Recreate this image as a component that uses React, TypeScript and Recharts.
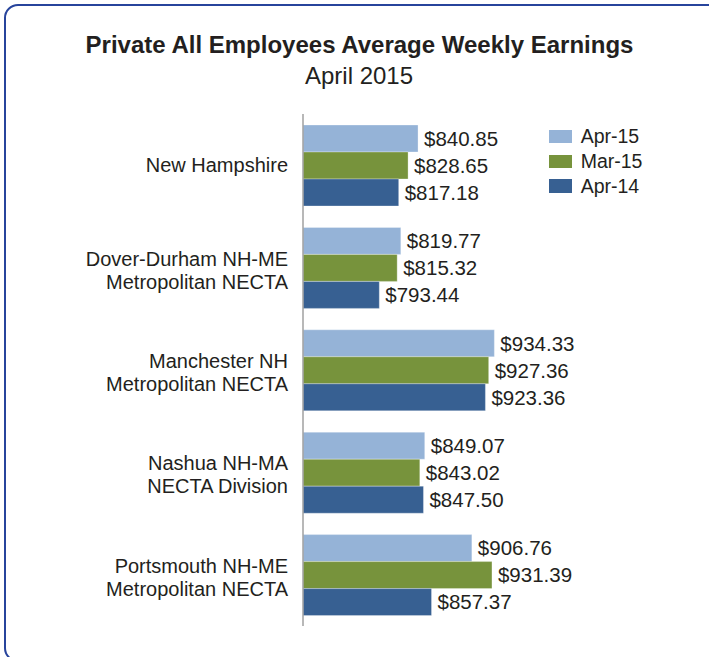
import React from "react";
import { BarChart, Bar, XAxis, YAxis, LabelList } from "recharts";

const categories = [
  "New Hampshire",
  "Dover-Durham NH-ME\nMetropolitan NECTA",
  "Manchester NH\nMetropolitan NECTA",
  "Nashua NH-MA\nNECTA Division",
  "Portsmouth NH-ME\nMetropolitan NECTA",
];
const apr15 = [840.85, 819.77, 934.33, 849.07, 906.76];
const mar15 = [828.65, 815.32, 927.36, 843.02, 931.39];
const apr14 = [817.18, 793.44, 923.36, 847.5, 857.37];
const seriesNames = ["Apr-15", "Mar-15", "Apr-14"];
const seriesColors = ["#95b3d7", "#77933c", "#376092"];
const xDomain = [700, 1000];

const data = categories.map((name, i) => ({
  name,
  apr15: apr15[i],
  mar15: mar15[i],
  apr14: apr14[i],
}));

const FONT = "'Liberation Sans', Arial, sans-serif";
const TEXT = "#231f20";

const CategoryTick = (props: any) => {
  const { x, y, payload } = props;
  const lines = String(payload.value).split("\n");
  const n = lines.length;
  const lh = 23;
  const base = y + 7 - ((n - 1) * lh) / 2 + (n - 1) * 2.5;
  const tx = x - 7;
  return (
    <text
      x={tx}
      y={base}
      textAnchor="end"
      fontFamily={FONT}
      fontSize={20}
      fill={TEXT}
    >
      {lines.map((l, i) => (
        <tspan key={i} x={tx} y={base + i * lh}>
          {l}
        </tspan>
      ))}
    </text>
  );
};

const fmt = (v: any) => `$${Number(v).toFixed(2)}`;

export default function App() {
  return (
    <div
      style={{
        position: "absolute",
        left: 0,
        top: 0,
        width: 709,
        height: 657,
        overflow: "hidden",
        background: "#fff",
      }}
    >
      <div
        style={{
          position: "absolute",
          left: 3.5,
          top: 3.5,
          width: 730,
          height: 658,
          border: "2.5px solid #27449c",
          borderRadius: 14,
          boxSizing: "border-box",
        }}
      />
      <svg
        width={709}
        height={100}
        style={{ position: "absolute", left: 0, top: 0 }}
      >
        <text
          x={359.5}
          y={53}
          textAnchor="middle"
          fontFamily={FONT}
          fontWeight="bold"
          fontSize={24}
          fill={TEXT}
        >
          Private All Employees Average Weekly Earnings
        </text>
        <text
          x={359}
          y={84}
          textAnchor="middle"
          fontFamily={FONT}
          fontSize={24}
          fill={TEXT}
        >
          April 2015
        </text>
      </svg>
      <div style={{ position: "absolute", left: 0, top: 0 }}>
        <BarChart
          width={709}
          height={657}
          data={data}
          layout="vertical"
          margin={{ top: 114, right: 161, bottom: 31, left: 0 }}
          barGap={0}
          barCategoryGap={11}
        >
          <XAxis type="number" domain={xDomain} hide allowDataOverflow />
          <YAxis
            type="category"
            dataKey="name"
            width={303}
            axisLine={{ stroke: "#a0a0a0", strokeWidth: 1.5 }}
            tickLine={false}
            tick={<CategoryTick />}
            interval={0}
          />
          {["apr15", "mar15", "apr14"].map((k, i) => (
            <Bar
              key={k}
              dataKey={k}
              name={seriesNames[i]}
              fill={seriesColors[i]}
              stroke="#ffffff"
              strokeOpacity={0.5}
              strokeWidth={0.6}
              isAnimationActive={false}
            >
              <LabelList
                dataKey={k}
                position="right"
                offset={6}
                formatter={fmt}
                style={{ fontFamily: FONT, fontSize: 20.5, fill: TEXT }}
              />
            </Bar>
          ))}
        </BarChart>
      </div>
      <div
        style={{
          position: "absolute",
          left: 549,
          top: 124,
          fontFamily: FONT,
          fontSize: 19.5,
          color: TEXT,
        }}
      >
        {seriesNames.map((s, i) => (
          <div
            key={s}
            style={{ display: "flex", alignItems: "center", height: 24.8 }}
          >
            <div
              style={{
                width: 22.7,
                height: 13.4,
                background: seriesColors[i],
                marginRight: 9,
              }}
            />
            <span style={{ lineHeight: "24px" }}>{s}</span>
          </div>
        ))}
      </div>
    </div>
  );
}
